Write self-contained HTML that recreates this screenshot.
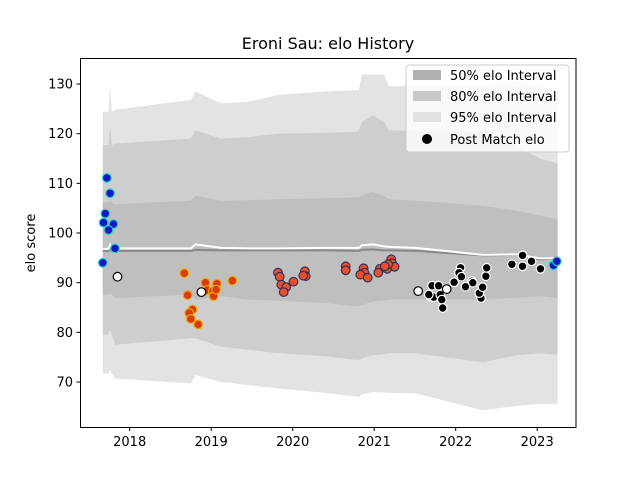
<!DOCTYPE html>
<html><head><meta charset="utf-8"><style>
body{margin:0;background:#fff}
svg text{font-family:"DejaVu Sans","Liberation Sans",sans-serif}
</style></head><body>
<svg id="chart" width="640" height="480" viewBox="0 0 640 480" xmlns="http://www.w3.org/2000/svg">
<rect width="640" height="480" fill="#fff"/>
<text x="328" y="49" font-size="16" text-anchor="middle">Eroni Sau: elo History</text>
<text transform="translate(35,243) rotate(-90)" font-size="13" text-anchor="middle">elo score</text>
<defs><clipPath id="plotclip"><rect x="80" y="58" width="496" height="369"/></clipPath></defs>
<g id="bands" clip-path="url(#plotclip)"></g>
<g id="lines" clip-path="url(#plotclip)"></g>
<g id="points" clip-path="url(#plotclip)"></g>
<rect x="80.5" y="58.5" width="495.5" height="369" fill="none" stroke="#000" stroke-width="1"/>
<g id="xaxis"></g>
<g id="yaxis"></g>
<g>
<rect x="406" y="65" width="163" height="87" rx="3" fill="#fff" fill-opacity="0.8" stroke="#ccc"/>
<rect x="413" y="70" width="28" height="10" fill="#b0b0b0"/>
<text x="450" y="80" font-size="13">50% elo Interval</text>
<rect x="413" y="91" width="28" height="10" fill="#c8c8c8"/>
<text x="450" y="101" font-size="13">80% elo Interval</text>
<rect x="413" y="112" width="28" height="10" fill="#e2e2e2"/>
<text x="450" y="122" font-size="13">95% elo Interval</text>
<circle cx="427" cy="139" r="5" fill="#000"/>
<text x="450" y="144" font-size="13">Post Match elo</text>
</g>
</svg>
<script>
// band dates and values
var bandT = [2017.67,2017.74,2017.76,2017.78,2017.82,2018.75,2018.81,2019.12,2019.45,2019.82,2020.40,2020.81,2020.85,2020.98,2021.12,2021.18,2021.51,2022.33,2022.75,2023.03,2023.25];
var top95 = [124.4,124.4,129.5,124.4,124.8,126.8,128.5,126.1,126.4,127.8,128.5,128.8,131.9,131.9,131.9,129.5,129.6,129.8,130.5,129.5,128.5];
var top80 = [117.7,117.7,121.7,117.7,118.0,119.0,120.7,119.0,119.3,120.0,120.2,120.4,122.4,123.7,122.4,120.7,120.5,120.4,117.5,115.0,114.0];
var top50 = [106.2,106.2,106.5,106.2,105.8,106.5,107.5,106.5,106.6,106.8,107.0,107.2,107.6,108.2,107.5,106.8,106.5,105.5,104.5,103.5,102.8];
var bot50 = [87.6,87.6,87.9,87.6,86.9,87.6,86.6,87.3,86.6,86.4,85.9,85.2,85.5,86.2,86.4,86.6,86.6,86.6,87.0,87.3,86.9];
var bot80 = [79.5,79.5,80.5,79.5,77.5,78.8,78.8,77.1,76.5,75.8,75.2,74.4,74.8,75.4,75.6,75.8,75.8,74.0,75.4,75.8,75.5];
var bot95 = [71.7,71.7,72.4,71.7,70.7,69.7,71.4,70.0,69.4,68.7,67.8,67.0,67.5,68.0,67.9,67.8,67.7,64.3,65.2,65.6,65.6];
var medLine = [96.4,96.4,96.8,96.4,96.4,96.4,96.6,96.5,96.5,96.5,96.5,96.4,96.6,96.7,96.5,96.5,96.4,95.5,95.6,94.7,94.9];
var hiLine = [96.8,96.8,97.6,96.8,96.9,96.9,97.7,97.0,96.9,96.9,97.0,97.0,97.5,97.7,97.3,97.2,97.0,95.6,95.7,94.9,94.9];
// match points
var blueT = [2017.72,2017.76,2017.70,2017.68,2017.80,2017.74,2017.82,2017.67,2023.20,2023.24];
var blueV = [111.1,108.0,103.9,102.1,101.8,100.6,96.9,94.0,93.5,94.3];
var orangeT = [2018.67,2018.71,2018.93,2019.07,2018.95,2019.02,2019.03,2018.77,2018.73,2018.75,2018.84,2019.26,2019.06];
var orangeV = [91.9,87.5,90.0,89.8,88.5,88.3,87.3,84.6,83.9,82.7,81.6,90.4,88.6];
var redT = [2019.82,2019.84,2019.86,2019.92,2019.89,2020.01,2020.15,2020.16,2020.13,2020.65,2020.65,2020.87,2020.88,2020.83,2020.92,2021.07,2021.05,2021.16,2021.21,2021.22,2021.25,2021.17,2021.13];
var redV = [92.0,91.2,89.6,89.1,88.1,90.2,92.3,91.3,91.4,93.3,92.5,92.9,92.0,91.6,91.0,92.8,92.0,92.8,94.7,93.9,93.2,93.7,93.3];
var blackT = [2021.71,2021.79,2021.69,2021.73,2021.81,2021.83,2021.84,2021.98,2022.06,2022.04,2022.07,2022.12,2022.20,2022.21,2022.31,2022.29,2022.33,2022.37,2022.38,2022.69,2022.82,2022.82,2022.93,2023.04,2021.67];
var blackV = [89.4,89.4,87.3,87.1,87.6,86.6,84.9,90.1,93.0,92.0,91.2,89.2,90.3,90.0,86.9,87.9,89.1,91.3,93.0,93.7,93.3,95.5,94.3,92.8,87.6];
var hollowT = [2017.85,2018.88,2021.54,2021.89];
var hollowV = [91.2,88.1,88.3,88.7];
var xTicks = [2018,2019,2020,2021,2022,2023];
var yTicks = [70,80,90,100,110,120,130];

var NS = "http://www.w3.org/2000/svg";
function X(t){ return 129.7 + (t-2018)*81.5; }
function Y(v){ return 84 + (130-v)*4.967; }
function mk(tag, parent){ var e=document.createElementNS(NS,tag); document.getElementById(parent).appendChild(e); return e; }

function band(top, bot, fill, name){
  var d = "";
  for (var i=0;i<bandT.length;i++) d += (i?"L":"M")+X(bandT[i]).toFixed(1)+","+Y(top[i]).toFixed(1);
  for (var j=bandT.length-1;j>=0;j--) d += "L"+X(bandT[j]).toFixed(1)+","+Y(bot[j]).toFixed(1);
  var p = mk("path","bands");
  p.setAttribute("d", d+"Z");
  p.setAttribute("fill", fill);
  
  
}
band(top95, bot95, "#e3e3e3", "band-95");
band(top80, bot80, "#cecece", "band-80");
band(top50, bot50, "#bfbfbf", "band-50");

function line(vals, color, name){
  var d="";
  for (var i=0;i<bandT.length;i++) d += (i?"L":"M")+X(bandT[i]).toFixed(1)+","+Y(vals[i]).toFixed(1);
  var p = mk("path","lines");
  p.setAttribute("d", d);
  p.setAttribute("fill","none");
  p.setAttribute("stroke",color);
  p.setAttribute("stroke-width","2");
  
  
}
line(medLine, "#888888", "median-elo-line");
line(hiLine, "#ffffff", "mean-elo-line");

function pts(ts, vs, fill, stroke, name){
  for (var i=0;i<ts.length;i++){
    var c = mk("circle","points");
    c.setAttribute("cx", X(ts[i]).toFixed(1));
    c.setAttribute("cy", Y(vs[i]).toFixed(1));
    c.setAttribute("r", "4.3");
    c.setAttribute("fill", fill);
    c.setAttribute("stroke", stroke);
    c.setAttribute("stroke-width", "1.2");
    
    
  }
}
pts(blueT, blueV, "#1414c8", "#1ed2c0", "match-point-blue");
pts(orangeT, orangeV, "#d83a14", "#f0a800", "match-point-orange");
pts(redT, redV, "#e8502a", "#34305c", "match-point-red");
pts(blackT, blackV, "#000000", "#ffffff", "match-point-black");
pts(hollowT, hollowV, "#ffffff", "#000000", "match-point-hollow");

xTicks.forEach(function(t){
  var x = X(t);
  var l = mk("line","xaxis");
  l.setAttribute("x1",x); l.setAttribute("x2",x); l.setAttribute("y1",427.5); l.setAttribute("y2",431);
  l.setAttribute("stroke","#000");
  
  
  var tx = mk("text","xaxis");
  tx.setAttribute("x",x); tx.setAttribute("y",446); tx.setAttribute("font-size","13"); tx.setAttribute("text-anchor","middle");
  tx.textContent = t;
  
  
});
yTicks.forEach(function(v){
  var y = Y(v);
  var l = mk("line","yaxis");
  l.setAttribute("x1",76.5); l.setAttribute("x2",80.5); l.setAttribute("y1",y); l.setAttribute("y2",y);
  l.setAttribute("stroke","#000");
  
  
  var tx = mk("text","yaxis");
  tx.setAttribute("x",73); tx.setAttribute("y",y+4.5); tx.setAttribute("font-size","13"); tx.setAttribute("text-anchor","end");
  tx.textContent = v;
  
  
});
</script>
</body></html>
